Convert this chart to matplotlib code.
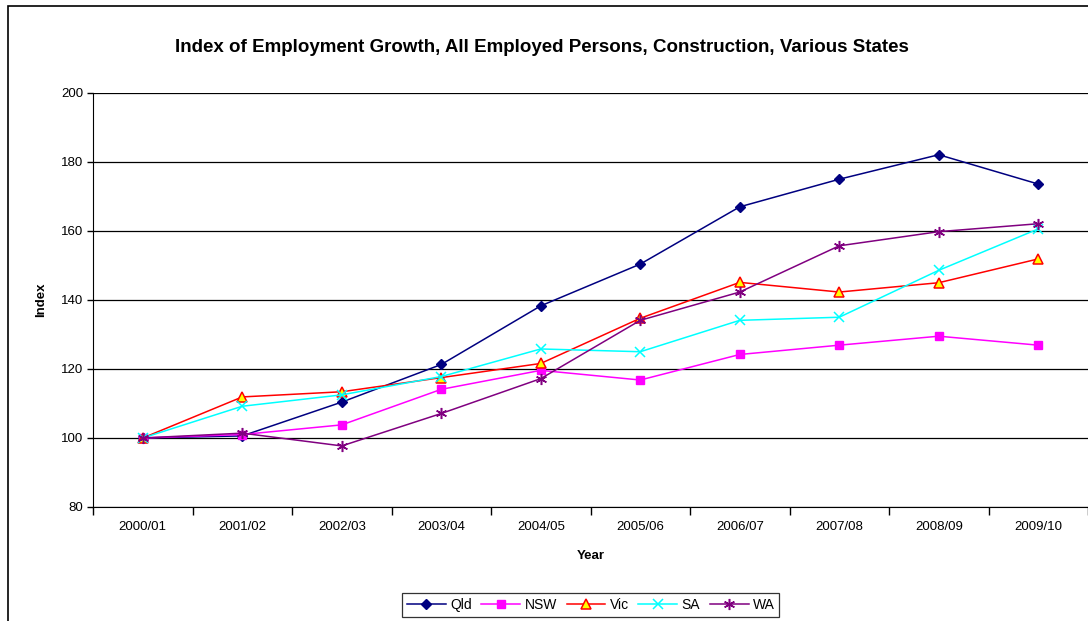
import matplotlib.pyplot as plt
import numpy as np
from matplotlib.patches import Rectangle

plt.rcParams["font.family"] = ["Liberation Sans", "DejaVu Sans"]

years = ["2000/01", "2001/02", "2002/03", "2003/04", "2004/05",
         "2005/06", "2006/07", "2007/08", "2008/09", "2009/10"]

qld = [100, 100.6, 110.4, 121.3, 138.3, 150.4, 167.0, 175.0, 182.1, 173.6]
nsw = [100, 101.0, 103.8, 114.1, 119.6, 116.8, 124.2, 126.9, 129.5, 126.9]
vic = [100, 111.9, 113.4, 117.5, 121.6, 134.7, 145.1, 142.3, 145.0, 151.9]
sa = [100, 109.2, 112.5, 117.8, 125.8, 125.0, 134.1, 135.0, 148.6, 160.6]
wa = [100, 101.4, 97.7, 107.1, 117.2, 134.1, 142.3, 155.7, 159.8, 162.1]

fig = plt.figure(figsize=(10.88, 6.21), dpi=100)
ax = fig.add_axes([0.0855, 0.1836, 0.9145, 0.6667])

x = np.arange(len(years))
ax.plot(x, qld, color="#000080", lw=1.1, marker="D", ms=5, label="Qld")
ax.plot(x, nsw, color="#FF00FF", lw=1.1, marker="s", ms=5.5, label="NSW")
ax.plot(x, vic, color="#FF0000", lw=1.1, marker="^", ms=7, mfc="#FFFF00",
        mec="#FF0000", mew=1.1, label="Vic")
ax.plot(x, sa, color="#00FFFF", lw=1.1, marker="x", ms=7, mew=1.1, label="SA")
ax.plot(x, wa, color="#800080", lw=1.1, marker=(6, 2, 0), ms=8, mew=1.1,
        label="WA")

ax.set_xlim(-0.5, len(years) - 0.5)
ax.set_ylim(80, 200)
ax.set_yticks(range(80, 201, 20))
ax.set_xticks(x)
ax.set_xticklabels(years)
ax.set_xticks(np.arange(-0.5, len(years), 1), minor=True)
ax.tick_params(axis="x", which="major", length=0, pad=10, labelsize=9.5)
ax.tick_params(axis="x", which="minor", length=6, width=1, color="#000000")
ax.tick_params(axis="y", length=4, width=1, labelsize=9.5, pad=3)

ax.grid(axis="y", color="#000000", lw=0.9)
ax.set_axisbelow(True)
for s in ("top", "right"):
    ax.spines[s].set_visible(False)
ax.spines["left"].set_color("#000000")
ax.spines["bottom"].set_color("#000000")

ax.set_xlabel("Year", fontweight="bold", fontsize=9.5, labelpad=12)
ax.set_ylabel("Index", fontweight="bold", fontsize=9.5, labelpad=10)
fig.text(0.4985, 0.924, "Index of Employment Growth, All Employed Persons, Construction, Various States",
         ha="center", va="center", fontweight="bold", fontsize=13.5)

leg = ax.legend(loc="center", bbox_to_anchor=(0.543, 0.026),
                bbox_transform=fig.transFigure, ncol=5, frameon=True,
                fancybox=False, edgecolor="#000000", fontsize=10,
                handlelength=2.8, handletextpad=0.3, columnspacing=0.7,
                borderpad=0.35)
leg.get_frame().set_linewidth(0.9)

fig.patches.append(Rectangle((8 / 1088, -0.1), 1.1, 1 - 6 / 621 + 0.1,
                             transform=fig.transFigure, fill=False,
                             edgecolor="#000000", lw=1.2))

fig.savefig("out.png", dpi=100)
